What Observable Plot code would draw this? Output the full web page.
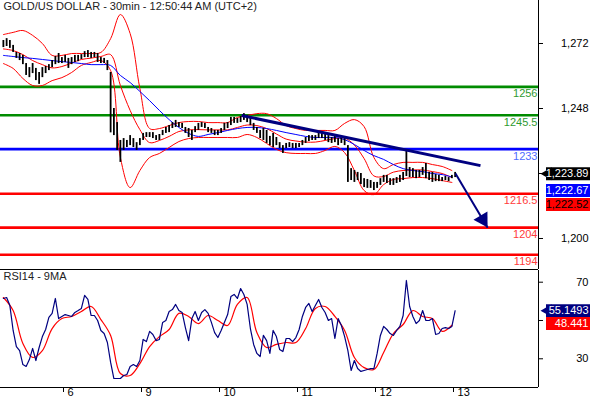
<!DOCTYPE html>
<html><head><meta charset="utf-8">
<script src="https://cdn.jsdelivr.net/npm/d3@7"></script>
<script src="https://cdn.jsdelivr.net/npm/@observablehq/plot@0.6"></script>
<style>
body{margin:0;background:#fff;}
#chart{width:590px;height:400px;overflow:hidden;background:#fff;}
#chart svg{display:block;}
</style></head><body><div id="chart"></div>
<script>
const title = "GOLD/US DOLLAR - 30min - 12:50:44 AM (UTC+2)";
const rsiTitle = "RSI14 - 9MA";

// time in trading hours relative to day "6" 00:00 (weekend removed)
const barStartHour = -18.5;   // one bar per hour
const lineStartHour = -18.5;  // smooth indicators sampled every 3 hours
const lineStepHours = 3;

const barHigh = [1273.1,1273.8,1273.1,1271.3,1268.7,1268.3,1267.6,1264.6,1263.1,1264.6,
1262.8,1261.3,1263.1,1263.5,1264.2,1265.7,1267.2,1268.3,1266.8,1267.6,
1266.5,1266.8,1267.6,1267.6,1267.9,1269.0,1269.4,1268.7,1268.7,1268.3,
1266.8,1266.5,1265.7,1261.3,1248.0,1242.8,1236.2,1236.9,1236.2,1238.0,
1236.9,1235.4,1236.9,1238.8,1239.1,1239.1,1239.1,1238.0,1238.4,1239.9,
1241.0,1241.7,1242.8,1243.6,1242.8,1242.5,1241.0,1240.6,1239.9,1241.3,
1242.5,1242.8,1242.5,1241.0,1240.6,1239.9,1239.9,1240.6,1242.5,1242.8,
1244.7,1244.7,1244.3,1245.0,1246.1,1245.4,1244.7,1242.5,1241.0,1239.9,
1240.6,1239.9,1237.7,1238.8,1237.3,1235.4,1234.3,1235.1,1235.4,1235.1,
1235.1,1235.1,1236.2,1237.3,1238.0,1238.0,1238.0,1239.1,1239.1,1238.8,
1238.0,1237.3,1238.0,1236.9,1237.7,1237.3,1234.3,1225.8,1225.1,1224.4,
1224.0,1222.1,1221.8,1221.4,1220.7,1220.7,1222.1,1223.3,1223.3,1222.1,
1222.1,1222.5,1223.3,1224.4,1232.5,1226.2,1225.8,1225.1,1225.1,1226.2,
1227.7,1224.4,1224.4,1223.6,1223.3,1222.5,1222.9,1222.5,1223.3,1224.4];
const barLow = [1270.5,1270.9,1270.2,1268.7,1266.5,1265.7,1264.2,1260.2,1259.4,1260.9,
1258.3,1256.9,1259.4,1260.9,1262.0,1263.1,1264.2,1264.6,1264.6,1265.0,
1262.8,1264.2,1265.0,1265.3,1266.1,1266.8,1266.8,1266.5,1266.8,1265.0,
1264.6,1264.6,1262.0,1239.0,1238.0,1232.5,1228.1,1232.5,1233.6,1234.3,
1233.6,1232.5,1234.3,1236.2,1237.3,1237.3,1236.9,1236.2,1236.2,1238.0,
1238.8,1239.1,1240.6,1241.0,1241.0,1240.6,1238.8,1237.3,1236.2,1239.1,
1239.9,1241.0,1240.6,1239.1,1238.8,1238.0,1238.0,1238.8,1239.9,1240.6,
1241.7,1242.5,1242.5,1242.8,1243.6,1242.8,1241.7,1239.9,1238.8,1236.9,
1236.2,1235.1,1234.3,1233.6,1234.3,1233.2,1231.4,1233.2,1233.6,1233.2,
1233.2,1233.6,1234.3,1235.1,1235.8,1236.2,1236.2,1236.9,1236.9,1236.2,
1235.4,1235.1,1235.4,1234.3,1235.1,1234.3,1220.7,1221.4,1220.7,1221.4,
1219.9,1218.8,1218.5,1218.5,1217.7,1218.5,1219.6,1220.7,1220.3,1219.6,
1219.6,1220.3,1220.7,1221.4,1222.9,1222.5,1222.5,1222.1,1222.5,1223.3,
1222.1,1221.4,1220.7,1221.0,1221.0,1221.0,1221.4,1221.0,1222.1,1222.5];

const bbUpper = [1275.3,1276.1,1276.8,1275.0,1272.0,1267.6,1267.6,1268.3,1268.3,1268.3,
1268.7,1273.8,1282.7,1275.7,1255.4,1240.6,1240.6,1241.7,1242.8,1243.2,
1243.2,1242.8,1242.8,1242.8,1244.7,1245.4,1246.1,1246.1,1244.3,1241.7,
1240.6,1239.9,1239.9,1239.9,1239.9,1242.5,1243.9,1241.3,1229.9,1225.8,
1227.3,1228.1,1228.1,1228.1,1227.3,1226.6,1225.1];
const bbMiddle = [1270.0,1269.4,1267.9,1265.7,1264.2,1263.0,1263.5,1264.8,1266.1,1266.6,
1267.2,1267.9,1256.5,1247.3,1240.2,1235.4,1236.2,1237.7,1239.5,1240.1,
1240.2,1240.1,1240.1,1240.1,1241.0,1241.9,1241.7,1240.6,1238.6,1236.7,
1236.0,1235.6,1235.6,1236.2,1236.9,1237.1,1234.5,1229.5,1223.1,1222.9,
1224.5,1225.1,1225.3,1225.3,1224.7,1224.0,1222.5];
const bbLower = [1264.6,1262.8,1259.1,1256.5,1256.5,1258.3,1259.4,1261.3,1263.9,1265.0,
1265.7,1262.0,1229.9,1218.8,1225.1,1229.9,1231.4,1233.6,1235.8,1236.9,
1237.3,1237.3,1237.3,1237.3,1237.3,1238.4,1237.3,1235.1,1232.9,1231.7,
1231.4,1231.4,1231.4,1232.5,1234.0,1231.7,1225.1,1217.7,1216.2,1219.9,
1221.8,1222.1,1222.5,1222.5,1222.1,1221.4,1220.7];
const maBlue = [1267.6,1267.2,1266.8,1266.5,1266.1,1265.7,1265.3,1265.0,1264.6,1264.2,
1264.2,1263.9,1260.2,1257.6,1254.3,1250.9,1247.3,1243.9,1241.0,1238.8,
1237.7,1238.4,1239.1,1239.9,1240.6,1241.0,1241.0,1240.6,1239.9,1239.1,
1238.4,1237.7,1237.3,1237.3,1237.3,1236.5,1234.7,1232.5,1230.6,1229.2,
1227.3,1225.8,1225.1,1224.7,1224.0,1223.6,1222.7];

const rsi = [61.5,62.0,57.8,44.8,36.4,34.3,27.0,26.0,29.6,35.4,
29.1,35.9,41.6,45.3,51.6,53.7,61.5,51.0,52.1,53.1,
52.6,52.1,54.2,55.2,56.3,63.1,61.0,52.6,52.6,50.0,
44.8,43.2,38.5,28.1,19.7,19.7,19.7,21.3,21.8,26.0,
27.0,26.0,29.1,40.1,39.0,44.3,42.7,39.5,40.1,49.0,
50.0,54.7,55.7,58.4,55.2,54.2,46.3,39.5,51.0,54.7,
50.0,54.2,55.7,53.7,49.0,43.7,41.1,44.8,49.0,53.1,
62.5,63.6,61.5,66.7,63.6,58.4,45.8,37.5,32.8,31.2,
42.2,39.5,32.8,44.8,41.6,34.9,33.8,40.6,40.6,39.0,
41.1,45.3,52.1,56.8,58.9,54.7,57.8,61.0,56.8,54.2,
50.0,51.0,40.6,51.0,47.4,41.6,34.3,23.9,29.1,24.9,
23.4,23.9,24.4,24.9,24.9,32.8,42.2,46.9,45.3,43.2,
42.2,44.8,46.9,52.6,70.9,57.3,52.1,48.4,50.0,55.2,
50.0,50.0,51.0,42.7,43.2,45.8,46.3,45.8,46.9,55.1];
const rsiMA = [62.0,55.2,38.0,30.7,34.3,45.8,51.0,52.1,54.7,57.3,
50.5,42.2,22.3,21.3,27.5,36.4,41.6,45.3,53.7,52.1,
48.4,52.6,50.0,47.4,58.4,62.0,43.7,35.9,37.5,38.5,
38.5,45.8,56.3,57.3,52.1,44.8,30.7,25.4,24.4,33.3,
43.2,47.9,55.2,52.1,51.0,44.3,47.5];

const levelValues = [1256, 1245.5, 1233, 1216.5, 1204, 1194];
const levelLabels = ["1256", "1245.5", "1233", "1216.5", "1204", "1194"];
const levelColors = ["#008c00", "#008c00", "#0000ff", "#ff0000", "#ff0000", "#ff0000"];
const levelTextColors = ["#2f9a2f", "#2f9a2f", "#4f6cff", "#ff3b3b", "#ff3b3b", "#ff3b3b"];

const trendStart = {h: 54.8, p: 1245.4};
const trendEnd = {h: 128.3, p: 1226.9};
const arrowStart = {h: 120.6, p: 1224.0};
const arrowEnd = {h: 130.5, p: 1204.0};

// axis ticks; the 1,224 and 50 labels sit under the value boxes and are not shown
const priceTicks = [1272, 1248, 1224, 1200];
const priceTickLabels = [1272, 1248, 1200];
const rsiTicks = [70, 50, 30];
const rsiTickLabels = [70, 30];
const dayHours = [0, 24, 48, 72, 96, 120];
const dayLabels = ["6", "9", "10", "11", "12", "13"];

const lastClose = 1223.89, lastMA = 1222.67, lastMid = 1222.52;
const lastRsi = 55.1493, lastRsiMA = 48.441;

// ---- tables ----
const bars = barHigh.map((hi, i) => ({h: barStartHour + i, hi, lo: barLow[i]}));
const bands = bbUpper.map((u, k) => ({h: lineStartHour + lineStepHours * k, upper: u, middle: bbMiddle[k], lower: bbLower[k], ma: maBlue[k]}));
const rsiData = rsi.map((v, i) => ({h: barStartHour + i, v}));
const rsiMAData = rsiMA.map((v, k) => ({h: lineStartHour + lineStepHours * k, v}));
const levelData = levelValues.map((v, i) => ({value: v, label: levelLabels[i], color: levelColors[i], textColor: levelTextColors[i]}));
const dayData = dayHours.map((h, i) => ({h, label: dayLabels[i]}));

const font = "'Liberation Sans', Arial, Helvetica, sans-serif";
const xDomain = [-19.385, 146.15];
const priceDomain = [1188.55, 1287.88];
const rsiDomain = [15.01, 76.11];
const W = 590, MR = 52;

function box(value, label, fill, textFill, dy, withPointer) {
  const d = [{value, label}];
  const marks = [
    Plot.ruleY(d, {y: "value", stroke: fill, strokeWidth: 13, insetLeft: 546, insetRight: -MR, dy})
  ];
  if (withPointer) marks.push(Plot.dot(d, {y: "value", frameAnchor: "right", symbol: "triangle", r: 4.8, rotate: -90, fill, stroke: "none", dx: 9.5, dy}));
  marks.push(Plot.text(d, {y: "value", text: "label", frameAnchor: "right", textAnchor: "end", dx: 50, dy, fill: textFill, fontSize: 11}));
  return marks;
}
const f2 = d3.format(",.2f");

const main = Plot.plot({
  width: W, height: 270,
  marginTop: 0, marginBottom: 1, marginLeft: 0, marginRight: MR,
  style: {fontFamily: font, fontSize: "11px", background: "transparent", overflow: "visible"},
  x: {domain: xDomain, axis: null},
  y: {domain: priceDomain, axis: null},
  marks: [
    Plot.ruleY(levelData, {y: "value", stroke: "color", strokeWidth: 2.6}),
    Plot.text(levelData, {y: "value", text: "label", fill: "textColor", frameAnchor: "right", textAnchor: "end", dx: -1, dy: 7, fontSize: 11}),
    Plot.line(bands, {x: "h", y: "upper", stroke: "#ff0000", strokeWidth: 1, curve: "catmull-rom"}),
    Plot.line(bands, {x: "h", y: "middle", stroke: "#ff0000", strokeWidth: 1, curve: "catmull-rom"}),
    Plot.line(bands, {x: "h", y: "lower", stroke: "#ff0000", strokeWidth: 1, curve: "catmull-rom"}),
    Plot.line(bands, {x: "h", y: "ma", stroke: "#0000ff", strokeWidth: 1, curve: "catmull-rom"}),
    Plot.ruleX(bars, {x: "h", y1: "lo", y2: "hi", stroke: "#000", strokeWidth: 1.8}),
    Plot.link([{a: trendStart, b: trendEnd}], {x1: d => d.a.h, y1: d => d.a.p, x2: d => d.b.h, y2: d => d.b.p, stroke: "#000080", strokeWidth: 3}),
    Plot.link([{a: arrowStart, b: arrowEnd}], {x1: d => d.a.h, y1: d => d.a.p, x2: d => d.b.h, y2: d => d.b.p, stroke: "#000080", strokeWidth: 2}),
    Plot.dot([arrowEnd], {x: "h", y: "p", symbol: "triangle", r: 6, rotate: 149.4, fill: "#000080", stroke: "none", dx: -4.8, dy: -8.1}),
    Plot.ruleY([priceDomain[0]], {stroke: "#000", strokeWidth: 1}),
    Plot.ruleX([xDomain[1]], {stroke: "#000", strokeWidth: 1}),
    Plot.ruleY(priceTicks, {y: d => d, stroke: "#000", insetLeft: 538, insetRight: -5}),
    Plot.text(priceTickLabels, {y: d => d, text: d => d3.format(",")(d), frameAnchor: "right", textAnchor: "end", dx: 50, fill: "#000", fontSize: 11}),
    ...box(lastClose, f2(lastClose), "#000", "#fff", 0, true),
    ...box(lastMA, f2(lastMA), "#0000ff", "#fff", 13.5, false),
    ...box(lastMid, f2(lastMid), "#ff0000", "#000", 27, false),
    Plot.text([title], {text: d => d, frameAnchor: "top-left", textAnchor: "start", lineAnchor: "top", dx: 3, dy: 2, fill: "#222", fontSize: 11})
  ]
});

const lower = Plot.plot({
  width: W, height: 130,
  marginTop: 0, marginBottom: 13, marginLeft: 0, marginRight: MR,
  style: {fontFamily: font, fontSize: "11px", background: "transparent", overflow: "visible"},
  x: {domain: xDomain, axis: null},
  y: {domain: rsiDomain, axis: null},
  marks: [
    Plot.line(rsiMAData, {x: "h", y: "v", stroke: "#ff0000", strokeWidth: 1.2, curve: "catmull-rom"}),
    Plot.line(rsiData, {x: "h", y: "v", stroke: "#000080", strokeWidth: 1.2}),
    Plot.ruleY([rsiDomain[0]], {stroke: "#000", strokeWidth: 1}),
    Plot.ruleX([xDomain[1]], {stroke: "#000", strokeWidth: 1}),
    Plot.ruleY(rsiTicks, {y: d => d, stroke: "#000", insetLeft: 538, insetRight: -5}),
    Plot.text(rsiTickLabels, {y: d => d, text: d => String(d), frameAnchor: "right", textAnchor: "end", dx: 50, fill: "#000", fontSize: 11}),
    Plot.ruleX(dayData, {x: "h", stroke: "#000", insetTop: 117, insetBottom: -5}),
    Plot.text(dayData, {x: "h", text: "label", frameAnchor: "bottom", lineAnchor: "top", textAnchor: "start", dx: 4, dy: 1, fill: "#000", fontSize: 11}),
    ...box(lastRsi, String(lastRsi), "#000080", "#fff", 0, true),
    ...box(lastRsiMA, String(lastRsiMA), "#ff0000", "#fff", 0, false),
    Plot.text([rsiTitle], {text: d => d, frameAnchor: "top-left", textAnchor: "start", lineAnchor: "top", dx: 3, dy: 2, fill: "#222", fontSize: 11})
  ]
});

const host = document.getElementById("chart");
host.appendChild(main);
host.appendChild(lower);
</script>
</body></html>
